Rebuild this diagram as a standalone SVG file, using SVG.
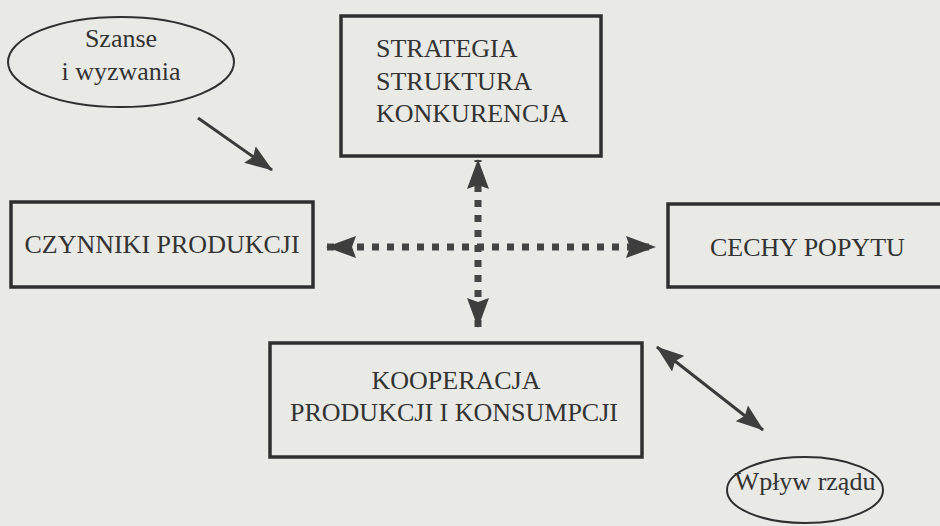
<svg xmlns="http://www.w3.org/2000/svg" width="940" height="526" viewBox="0 0 940 526">
  <defs>
    <style>
      .bg { fill: #e9e9e6; }
      .box { fill: none; stroke: #2f2f2f; stroke-width: 3.5; }
      .ell { fill: none; stroke: #2f2f2f; stroke-width: 2; }
      .lbl { font-family: "Liberation Serif", "Times New Roman", serif; font-size: 26px; fill: #333333; }
      .mid { text-anchor: middle; }
      .solid { fill: none; stroke: #3a3a3a; stroke-width: 3; }
      .dots { fill: none; stroke: #444444; stroke-width: 7; stroke-dasharray: 7 8; }
    </style>
    <marker id="head" viewBox="0 0 30 22" refX="29" refY="11" markerWidth="30" markerHeight="22" markerUnits="userSpaceOnUse" orient="auto-start-reverse">
      <path d="M0,0 L30,11 L0,22 L4,11 z" fill="#3e3e3e"/>
    </marker>
    <marker id="headS" viewBox="0 0 28 20" refX="27" refY="10" markerWidth="28" markerHeight="20" markerUnits="userSpaceOnUse" orient="auto-start-reverse">
      <path d="M0,0 L28,10 L0,20 L4,10 z" fill="#3e3e3e"/>
    </marker>
  </defs>

  <rect class="bg" x="0" y="0" width="940" height="526"/>

  <g id="connectors">
    <path class="solid" d="M198,118 L272,170" marker-end="url(#headS)"/>
    <path class="solid" d="M657,347 L763,430" marker-start="url(#headS)" marker-end="url(#headS)"/>
    <path class="dots" d="M327,247 L655,247" marker-start="url(#head)" marker-end="url(#head)"/>
    <path class="dots" d="M478,327 L478,160" marker-start="url(#head)" marker-end="url(#head)"/>
  </g>

  <g id="szanse">
    <ellipse class="ell" cx="121" cy="62" rx="113" ry="45"/>
    <text class="lbl mid" x="121" y="47">Szanse</text>
    <text class="lbl mid" x="121" y="80">i wyzwania</text>
  </g>

  <g id="strategia">
    <rect class="box" x="341" y="16" width="260" height="140"/>
    <text class="lbl" x="376" y="57">STRATEGIA</text>
    <text class="lbl" x="376" y="90">STRUKTURA</text>
    <text class="lbl" x="376" y="122">KONKURENCJA</text>
  </g>

  <g id="czynniki">
    <rect class="box" x="11" y="202" width="302" height="85"/>
    <text class="lbl mid" x="162" y="253">CZYNNIKI PRODUKCJI</text>
  </g>

  <g id="cechy">
    <rect class="box" x="668" y="204" width="290" height="83"/>
    <text class="lbl" x="710" y="256">CECHY POPYTU</text>
  </g>

  <g id="kooperacja">
    <rect class="box" x="270" y="343" width="372" height="114"/>
    <text class="lbl mid" x="456" y="389">KOOPERACJA</text>
    <text class="lbl mid" x="454" y="421">PRODUKCJI I KONSUMPCJI</text>
  </g>

  <g id="wplyw">
    <ellipse class="ell" cx="805" cy="490" rx="78" ry="33"/>
    <text class="lbl mid" x="805" y="490">Wpływ rządu</text>
  </g>
</svg>
